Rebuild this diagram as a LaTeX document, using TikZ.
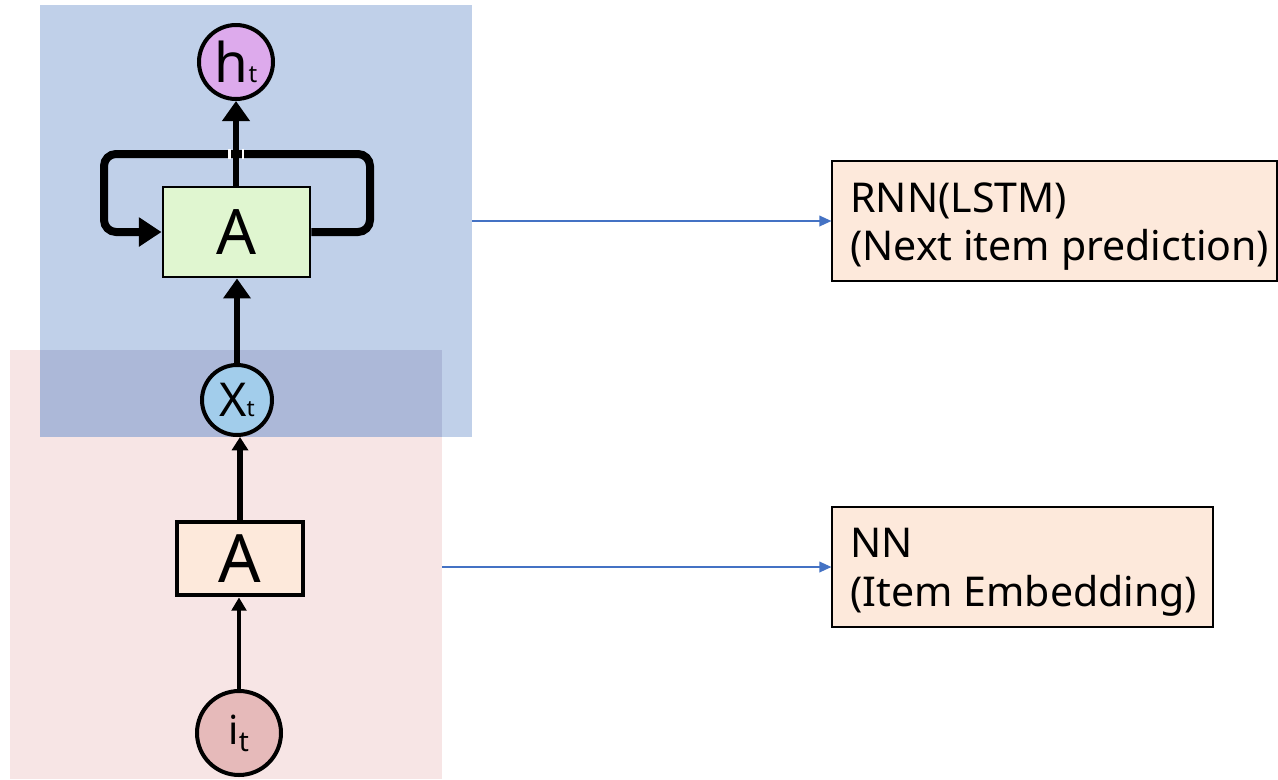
\documentclass[tikz,border=0pt]{standalone}
\usepackage{fontspec}
\setmainfont{Noto Sans}
\usetikzlibrary{arrows.meta}
\definecolor{bluebg}{RGB}{192,208,233}
\definecolor{pinkbg}{RGB}{247,229,229}
\definecolor{overlapbg}{RGB}{172,184,216}
\definecolor{hfill}{RGB}{221,170,236}
\definecolor{xfill}{RGB}{162,205,235}
\definecolor{ifill}{RGB}{230,186,186}
\definecolor{greenA}{RGB}{224,246,208}
\definecolor{peach}{RGB}{253,233,219}
\definecolor{linkblue}{RGB}{68,114,196}
\tikzset{
  bgbox/.style={draw=none, rectangle, inner sep=0pt},
  circ/.style={circle, draw=black, line width=3pt, inner sep=0pt},
  abox/.style={rectangle, draw=black, inner sep=0pt},
  rbox/.style={rectangle, draw=black, line width=0.9pt, fill=peach, inner sep=0pt},
  blk/.style={draw=black, line width=3.8pt},
  link/.style={draw=linkblue, line width=1.1pt, -{Triangle[length=9pt,width=8pt]}},
  lbl/.style={anchor=base west, inner sep=0pt, font=\fontsize{30.8}{30.8}\selectfont}
}
\begin{document}
\begin{tikzpicture}[x=0.75pt,y=-0.75pt]
\useasboundingbox (0,0) rectangle (1278,779);
\fill[white] (0,0) rectangle (1278,779);
% backgrounds
\node[bgbox, fill=pinkbg, minimum width=324pt, minimum height=321.75pt] (nnbg) at (226,564.5) {};
\node[bgbox, fill=bluebg, minimum width=324pt, minimum height=324pt] (rnnbg) at (256,221) {};
\fill[overlapbg] (40,350) rectangle (442,437);
% nodes
\node[circ, fill=hfill, minimum size=55.5pt] (ht) at (236,62) {\fontsize{41}{41}\selectfont h\fontsize{18}{18}\selectfont t};
\node[abox, fill=greenA, line width=2.2pt, minimum width=110.25pt, minimum height=67.5pt] (rnnA) at (236.5,232) {\fontsize{47}{47}\selectfont A};
\node[circ, fill=xfill, minimum size=52.5pt] (xt) at (237,400) {\fontsize{35}{35}\selectfont X\fontsize{17}{17}\selectfont t};
\node[abox, fill=peach, line width=3.6pt, minimum width=94.5pt, minimum height=54.75pt] (nnA) at (240,558.5) {\fontsize{50}{50}\selectfont A};
\node[circ, fill=ifill, minimum size=63pt] (it) at (239,733) {\fontsize{30}{30}\selectfont i$_{\fontsize{20}{20}\selectfont \mathrm{t}}$};
% recurrent loop
\draw[draw=black, line width=6pt, rounded corners=9pt, -{Triangle[length=17pt,width=21pt]}]
  (rnnA.east) -- (370,232) -- (370,154) -- (104,154) -- (104,232) -- (rnnA.west);
\draw[white, line width=1.8pt] (229.5,149) -- (229.5,159) (243,149) -- (243,159);
% arrows
\draw[blk, -{Triangle[length=15pt,width=20pt]}] (rnnA.north -| ht.south) -- (ht.south);
\draw[blk, -{Triangle[length=15pt,width=20pt]}] (xt.north) -- (xt.north |- rnnA.south);
\draw[black, line width=3.8pt, -{Triangle[length=10pt,width=12pt]}] (nnA.north) -- (nnA.north |- xt.south);
\draw[black, line width=3pt, -{Triangle[length=10pt,width=11pt]}] (it.north) -- (it.north |- nnA.south);
% right boxes
\node[rbox, minimum width=333.75pt, minimum height=90pt] (rnnbox) at (1054.5,221) {};
\node[rbox, minimum width=285.75pt, minimum height=90pt] (nnbox) at (1022.5,567) {};
\node[lbl] (t1) at (850,212) {RNN(LSTM)};
\node[lbl] (t2) at (850,260) {(Next item prediction)};
\node[lbl] (t3) at (850,557) {NN};
\node[lbl] (t4) at (850,606) {(Item Embedding)};
\draw[link] (rnnbg.east |- rnnbox.west) -- (rnnbox.west);
\draw[link] (nnbg.east |- nnbox.west) -- (nnbox.west);
\end{tikzpicture}
\end{document}
